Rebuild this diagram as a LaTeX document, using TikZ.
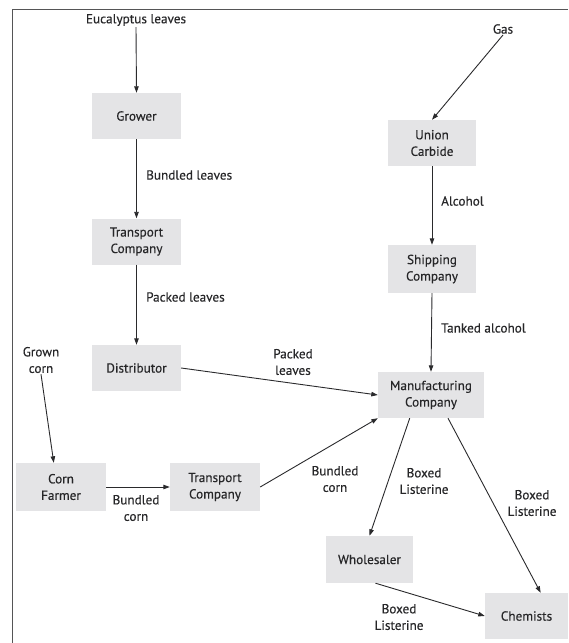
\documentclass[tikz,border=0pt]{standalone}
\usepackage{fontspec}
\setmainfont{PT Sans}
\newfontfamily\diafont{PT Sans}[FakeBold=0.25]
\usetikzlibrary{arrows.meta,calc}
\begin{document}
\begin{tikzpicture}[x=1pt,y=-1pt,
  font=\diafont\fontsize{13.2}{16.5}\selectfont,
  box/.style={fill=boxgray, draw=none, minimum height=46pt, align=center, inner sep=2pt, text=txt},
  lbl/.style={align=center, inner sep=1pt, text=txt},
  flow/.style={draw=linegray, line width=0.9pt, -{Triangle[length=6.5pt,width=4.5pt]}}]
\definecolor{boxgray}{HTML}{E4E4E6}
\definecolor{linegray}{HTML}{2A2A2C}
\definecolor{txt}{HTML}{262628}
\useasboundingbox (0,0) rectangle (568,643);
\draw[linegray!80, line width=1pt] (12,643) -- (12,9.5) -- (568,9.5);

% nodes
\node[lbl] (euc) at (136,20) {Eucalyptus leaves};
\node[box, minimum width=89pt] (grow) at (136.5,116) {Grower};
\node[box, minimum width=89pt] (tt) at (136.5,241.5) {Transport\\Company};
\node[box, minimum width=89pt] (dist) at (136.5,368) {Distributor};

\node[lbl] (gas) at (503,29) {Gas};
\node[box, minimum width=88pt] (uc) at (432,143) {Union\\Carbide};
\node[box, minimum width=88pt, minimum height=48pt] (ship) at (432,269) {Shipping\\Company};
\node[box, minimum width=106pt] (manu) at (431,395) {Manufacturing\\Company};

\node[lbl] (grown) at (41,360) {Grown\\corn};
\node[box, minimum width=90pt, minimum height=48pt] (cf) at (61,487) {Corn\\Farmer};
\node[box, minimum width=90pt, minimum height=48pt] (tb) at (215,487) {Transport\\Company};

\node[box, minimum width=87pt, minimum height=47pt] (whol) at (369.5,559.5) {Wholesaler};
\node[box, minimum width=83pt] (chem) at (526.5,616) {Chemists};

% labels
\node[lbl, anchor=west] (l1) at (145,175) {Bundled leaves};
\node[lbl, anchor=west] (l2) at (145,297) {Packed leaves};
\node[lbl, anchor=west] (l3) at (440,201) {Alcohol};
\node[lbl, anchor=west] (l4) at (440,328) {Tanked alcohol};
\node[lbl] (l5) at (293,362) {Packed\\leaves};
\node[lbl] (l6) at (136,508) {Bundled\\corn};
\node[lbl] (l7) at (335,479) {Bundled\\corn};
\node[lbl] (l8) at (424,481) {Boxed\\Listerine};
\node[lbl] (l9) at (532,503) {Boxed\\Listerine};
\node[lbl] (l10) at (399,617) {Boxed\\Listerine};

% connectors
\draw[flow] (euc.south) -- (grow.north);
\draw[flow] (grow.south) -- (tt.north);
\draw[flow] (tt.south) -- (dist.north);
\draw[flow] (gas.south) -- (uc.north);
\draw[flow] (uc.south) -- (ship.north);
\draw[flow] (ship.south) -- (manu.north);
\draw[flow] (dist.east) -- (manu.west);
\draw[flow] (grown.south) -- ($(cf.north west)!0.42!(cf.north east)$);
\draw[flow] (cf.east) -- (tb.west);
\draw[flow] (tb.east) -- (manu.south west);
\draw[flow] ($(manu.south west)!0.3!(manu.south east)$) -- (whol.north);
\draw[flow] ($(manu.south west)!0.66!(manu.south east)$) -- ($(chem.north west)!0.67!(chem.north east)$);
\draw[flow] ($(whol.south)+(6,0)$) -- (chem.west);
\end{tikzpicture}
\end{document}
